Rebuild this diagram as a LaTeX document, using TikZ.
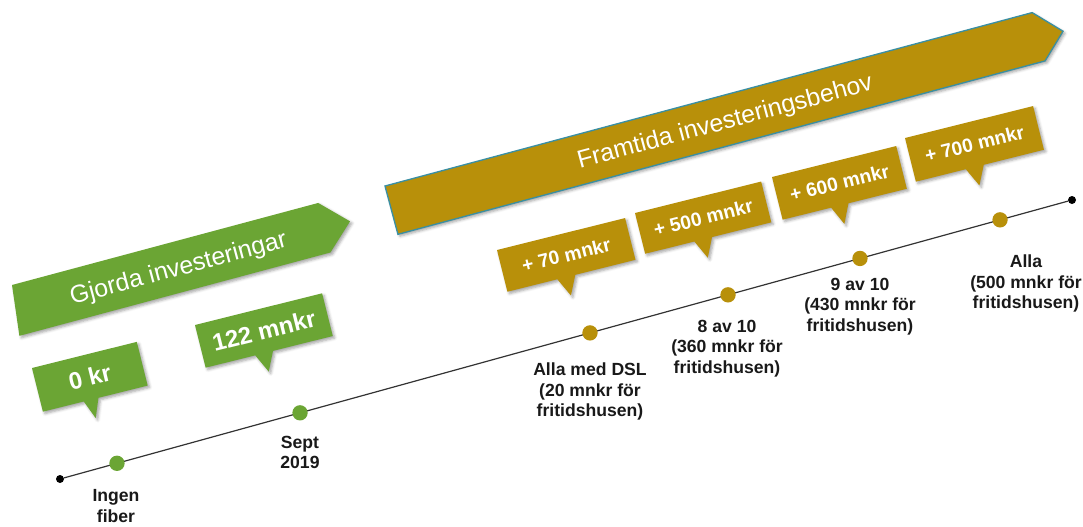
\documentclass[tikz,border=0pt]{standalone}
\usepackage{fontspec}
\setmainfont{Liberation Sans}
\usetikzlibrary{shadows.blur,calc}
\definecolor{grn}{HTML}{6BA534}
\definecolor{gld}{HTML}{B8900A}
\definecolor{tealline}{HTML}{3A8FA3}
\newcommand\mkcallout[8]{%
  \begin{scope}[shift={(#1,#2)},rotate=14]
    \fill[#5,shad] (0,0) -- (#3,0) -- (#3,#4) -- ({0.53*#3},#4) -- ({0.46*#3},{#4+19}) -- ({0.39*#3},#4) -- (0,#4) -- cycle;
    \node[#7,rotate=14] (#6) at ({#3/2},{#4/2}) {#8};
  \end{scope}}
\begin{document}
\begin{tikzpicture}[x=0.75pt,y=-0.75pt,
  shad/.style={blur shadow={shadow xshift=1.5pt,shadow yshift=-1.5pt,shadow blur radius=2pt,shadow opacity=35}},
  bannertext/.style={text=white,font=\fontsize{18.6}{22}\selectfont,inner sep=0},
  calltext/.style={text=white,font=\bfseries\fontsize{14.5}{17}\selectfont,inner sep=0},
  bigcalltext/.style={text=white,font=\bfseries\fontsize{18}{21}\selectfont,inner sep=0},
  lbl/.style={font=\bfseries\fontsize{13.2}{15.5}\selectfont,align=center,anchor=north,inner sep=0,text=black!90},
  gdot/.style={circle,fill=grn,minimum size=11.5pt,inner sep=0},
  odot/.style={circle,fill=gld,minimum size=11.5pt,inner sep=0},
  bdot/.style={circle,fill=black,minimum size=6pt,inner sep=0},
  tline/.style={line width=0.9pt,black!80}]
\useasboundingbox (0,0) rectangle (1083,526);
% banners
\begin{scope}[shift={(12,285)},rotate=15]
  \fill[grn,shad] (0,0) -- (317,0) -- (343,26) -- (316,51) -- (-6,51) -- cycle;
  \node[bannertext,rotate=15] (gjorda) at (165,28) {Gjorda investeringar};
\end{scope}
\begin{scope}[shift={(385,186)},rotate=15]
  \filldraw[fill=gld,draw=tealline,line width=1pt,shad] (0,0) -- (670,0) -- (695,26) -- (670,50) -- (0,50) -- cycle;
  \node[bannertext,rotate=15] (framtida) at (345,27) {Framtida investeringsbehov};
\end{scope}
% callouts
\mkcallout{32}{368}{108}{45}{grn}{c0}{bigcalltext}{0 kr}
\mkcallout{195}{325}{131}{44}{grn}{c1}{bigcalltext}{122 mnkr}
\mkcallout{497}{250}{132}{43}{gld}{c2}{calltext}{+ 70 mnkr}
\mkcallout{635}{213}{130}{42}{gld}{c3}{calltext}{+ 500 mnkr}
\mkcallout{772}{177}{128}{44}{gld}{c4}{calltext}{+ 600 mnkr}
\mkcallout{905}{138}{132}{45}{gld}{c5}{calltext}{+ 700 mnkr}
% timeline
\node[bdot] (t0) at (60,479) {};
\node[bdot] (t1) at (1072,200) {};
\draw[tline] (t0) -- (t1);
\node[gdot] (d0) at ($(t0)!0.0563!(t1)$) {};
\node[gdot] (d1) at ($(t0)!0.2372!(t1)$) {};
\node[odot] (d2) at ($(t0)!0.5237!(t1)$) {};
\node[odot] (d3) at ($(t0)!0.6601!(t1)$) {};
\node[odot] (d4) at ($(t0)!0.7905!(t1)$) {};
\node[odot] (d5) at ($(t0)!0.9289!(t1)$) {};
% labels
\node[lbl] (l0) at (116,489.5) {Ingen\\fiber};
\node[lbl] (l1) at (300,435.5) {Sept\\2019};
\node[lbl] (l2) at (590,362.5) {Alla med DSL\\(20 mnkr för\\fritidshusen)};
\node[lbl] (l3) at (727,319.5) {8 av 10\\(360 mnkr för\\fritidshusen)};
\node[lbl] (l4) at (860,277.5) {9 av 10\\(430 mnkr för\\fritidshusen)};
\node[lbl] (l5) at (1026,254.5) {Alla\\(500 mnkr för\\fritidshusen)};
\end{tikzpicture}
\end{document}
